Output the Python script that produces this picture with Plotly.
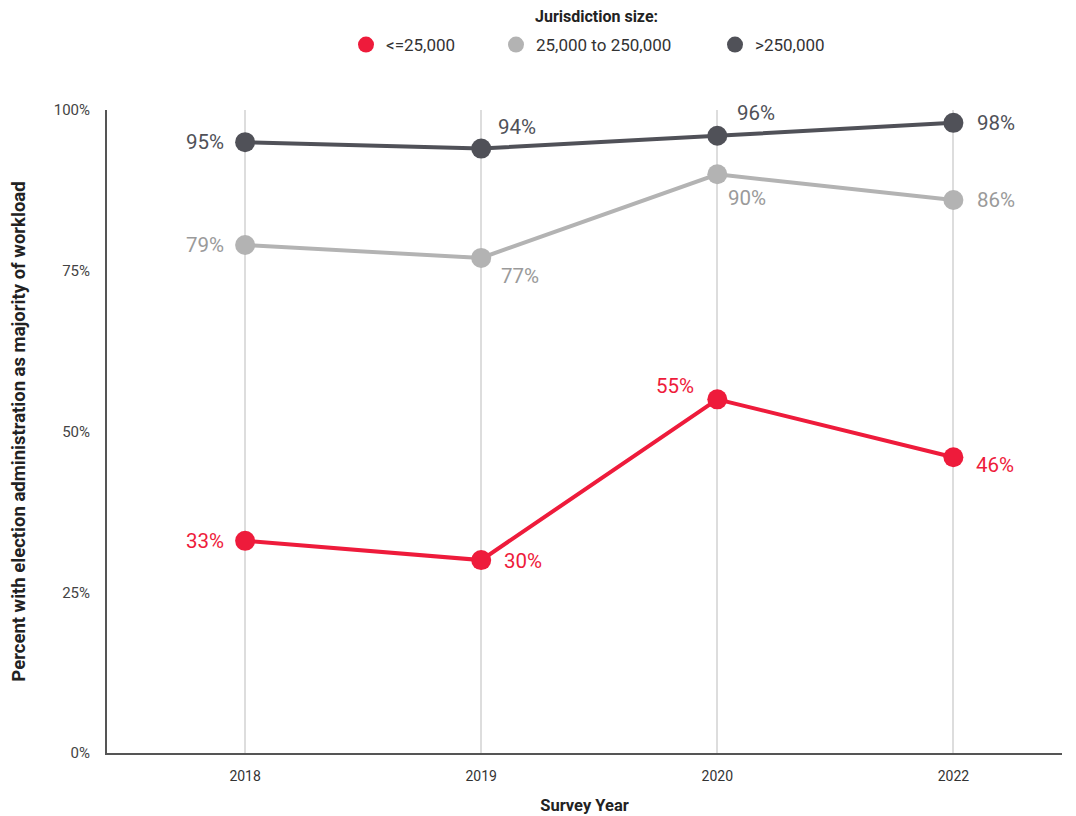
import plotly.graph_objects as go

years = ["2018", "2019", "2020", "2022"]
small = [33, 30, 55, 46]
mid = [79, 77, 90, 86]
large = [95, 94, 96, 98]
series_names = ["<=25,000", "25,000 to 250,000", ">250,000"]
y_ticks = [0, 25, 50, 75, 100]
y_ticklabels = ["0%", "25%", "50%", "75%", "100%"]

colors = ["#EE1B3B", "#B3B3B3", "#505158"]
label_colors = ["#EE1B3B", "#9A9A9A", "#505158"]
FONT = "Roboto, Arial"

W, H = 1076, 816
ML, MR, MT, MB = 99, 22, 102, 71

xi = list(range(len(years)))
legend_ids = ["legend", "legend2", "legend3"]
legend_x = [338, 488, 707]

fig = go.Figure()
for name, vals, c, lg in zip(series_names, [small, mid, large], colors, legend_ids):
    fig.add_trace(go.Scatter(
        x=xi, y=vals, name=name, mode="lines+markers",
        line=dict(color=c, width=4),
        marker=dict(color=c, size=20),
        hoverinfo="skip", showlegend=False,
    ))
    # legend-only entry (circle marker only)
    fig.add_trace(go.Scatter(
        x=[None], y=[None], name=name, mode="markers",
        marker=dict(color=c, size=18), legend=lg, showlegend=True,
    ))

# label placement: (xanchor, xshift, yshift)
place = {
    0: [("right", -19, 0), ("left", 21, -1), ("right", -21, 13), ("left", 21, -8)],
    1: [("right", -19, 0), ("left", 18, -18), ("left", 9, -24), ("left", 22, 0)],
    2: [("right", -19, 0), ("left", 15, 22), ("left", 18, 23), ("left", 22, 0)],
}
for si, vals in enumerate([small, mid, large]):
    for i, v in enumerate(vals):
        xa, xs, ys = place[si][i]
        fig.add_annotation(
            x=xi[i], y=v, text=f"{v}%", showarrow=False,
            xanchor=xa, yanchor="middle", xshift=xs, yshift=ys,
            font=dict(family=FONT, size=20.5, color=label_colors[si]),
        )

pw = W - ML - MR
ph = H - MT - MB
fig.add_annotation(
    xref="paper", yref="paper", x=(588 - ML) / pw, y=1 + (MT - 9) / ph,
    text="<b>Jurisdiction size:</b>", showarrow=False,
    xanchor="center", yanchor="middle",
    font=dict(family=FONT, size=16, color="#222"),
)

legend_common = dict(
    orientation="h", xref="container", yref="container",
    xanchor="left", y=1 - 37 / H, yanchor="middle",
    font=dict(family=FONT, size=17, color="#333"),
    bgcolor="rgba(0,0,0,0)",
)
legends = {}
for lg, lx in zip(legend_ids, legend_x):
    legends[lg] = dict(legend_common, x=lx / W)

fig.update_layout(
    width=W, height=H,
    margin=dict(l=ML, r=MR, t=MT, b=MB, autoexpand=False),
    plot_bgcolor="white", paper_bgcolor="white",
    font=dict(family=FONT, color="#333"),
    xaxis=dict(
        tickmode="array", tickvals=xi, ticktext=years,
        range=[-0.585, 3.46], automargin=False,
        showgrid=True, gridcolor="#DDDDDD", gridwidth=1.5,
        showline=True, linecolor="#555", linewidth=2,
        zeroline=False, ticks="", ticklabelstandoff=9,
        tickfont=dict(family=FONT, size=14, color="#333"),
        title=dict(text="<b>Survey Year</b>", font=dict(family=FONT, size=16.5, color="#222"), standoff=17),
    ),
    yaxis=dict(
        range=[0, 100], automargin=False,
        tickmode="array", tickvals=y_ticks, ticktext=y_ticklabels,
        showgrid=False, zeroline=False,
        showline=True, linecolor="#555", linewidth=2,
        ticks="", ticklabelstandoff=12,
        tickfont=dict(family=FONT, size=15, color="#444"),
        title=dict(text="<b>Percent with election administration as majority of workload</b>",
                   font=dict(family=FONT, size=18.5, color="#222"), standoff=26),
    ),
    **legends,
)

fig.write_html("out.html")
